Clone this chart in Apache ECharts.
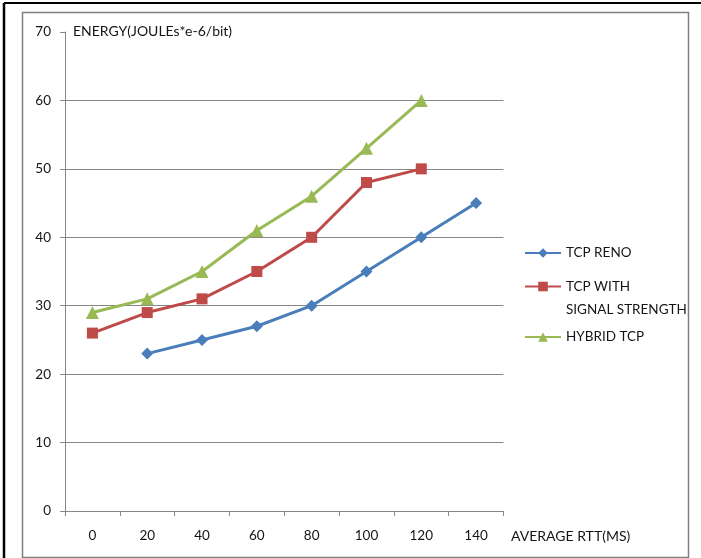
<!DOCTYPE html>
<html>
<head>
<meta charset="utf-8">
<script src="https://cdn.jsdelivr.net/npm/echarts@6/dist/echarts.min.js"></script>
<style>
  html, body { margin: 0; padding: 0; background: #fff; }
  #chart { width: 701px; height: 558px; }
</style>
</head>
<body>
<div id="chart"></div>
<script>
// Average RTT (ms) categories and energy per bit for each TCP variant
const rttLabels = ['0', '20', '40', '60', '80', '100', '120', '140'];
const tcpReno = [null, 23, 25, 27, 30, 35, 40, 45];
const tcpSignal = [26, 29, 31, 35, 40, 48, 50, null];
const hybridTcp = [29, 31, 35, 41, 46, 53, 60, null];
const yTicks = { min: 0, max: 70, step: 10 };

const FONT = 'Lato, "Open Sans", sans-serif';
const FS = 13.5;
const TXT = '#151515';
const AXIS_GREY = '#878787';
const COLORS = { reno: '#4A7EBB', signal: '#BE4B48', hybrid: '#98B954' };

const chart = echarts.init(document.getElementById('chart'), null, { renderer: 'canvas' });

function legendBlock(name, top, extra) {
  return Object.assign({
    data: [name],
    orient: 'vertical',
    left: 519,
    top: top,
    itemWidth: 36,
    itemHeight: 12,
    itemGap: 2,
    selectedMode: false,
    textStyle: { fontFamily: FONT, fontSize: FS, color: TXT }
  }, extra || {});
}

chart.setOption({
  animation: false,
  backgroundColor: '#fff',
  textStyle: { fontFamily: FONT },
  grid: { left: 65, right: 197.5, top: 32, bottom: 47 },
  xAxis: {
    type: 'category',
    data: rttLabels,
    boundaryGap: true,
    axisLine: { lineStyle: { color: AXIS_GREY, width: 1 } },
    axisTick: { show: true, length: 5, lineStyle: { color: AXIS_GREY } },
    axisLabel: { margin: 18, fontSize: FS, color: TXT, fontFamily: FONT },
    splitLine: { show: false }
  },
  yAxis: {
    type: 'value',
    min: yTicks.min,
    max: yTicks.max,
    interval: yTicks.step,
    axisLine: { show: true, lineStyle: { color: AXIS_GREY, width: 1 } },
    axisTick: { show: true, length: 5, lineStyle: { color: AXIS_GREY } },
    axisLabel: { margin: 14, fontSize: FS, color: TXT, fontFamily: FONT },
    splitLine: { show: true, showMaxLine: false, lineStyle: { color: AXIS_GREY, width: 1 } }
  },
  legend: [
    legendBlock('TCP RENO', 241),
    // leading blank line keeps the icon level with the first text line
    legendBlock('TCP WITH\nSIGNAL STRENGTH', 247, {
      formatter: function (n) { return '\u00a0\n' + n; },
      textStyle: { fontFamily: FONT, fontSize: FS, color: TXT, lineHeight: 23 }
    }),
    legendBlock('HYBRID TCP', 325)
  ],
  graphic: [
    // outer frame: heavy black top and left edges
    { type: 'line', shape: { x1: 4, y1: 3, x2: 701, y2: 3 }, style: { stroke: '#000', lineWidth: 2 }, z: 100 },
    { type: 'line', shape: { x1: 4, y1: 3, x2: 4, y2: 558 }, style: { stroke: '#000', lineWidth: 2.5 }, z: 100 },
    // inner chart-area border
    { type: 'rect', shape: { x: 22.5, y: 12.5, width: 666, height: 545 },
      style: { fill: null, stroke: '#7f7f7f', lineWidth: 1.5 }, z: 100 },
    { type: 'text', left: 73, top: 24,
      style: { text: 'ENERGY(JOULEs*e-6/bit)', font: '14px ' + FONT, fill: TXT } },
    { type: 'text', left: 511, top: 529,
      style: { text: 'AVERAGE RTT(MS)', font: '14px ' + FONT, fill: TXT } }
  ],
  series: [
    {
      name: 'TCP RENO', type: 'line', data: tcpReno,
      symbol: 'diamond', symbolSize: 12, connectNulls: false,
      itemStyle: { color: COLORS.reno },
      lineStyle: { color: COLORS.reno, width: 3 }
    },
    {
      name: 'TCP WITH\nSIGNAL STRENGTH', type: 'line', data: tcpSignal,
      symbol: 'rect', symbolSize: 11,
      itemStyle: { color: COLORS.signal },
      lineStyle: { color: COLORS.signal, width: 3 }
    },
    {
      name: 'HYBRID TCP', type: 'line', data: hybridTcp,
      symbol: 'triangle', symbolSize: 13,
      itemStyle: { color: COLORS.hybrid },
      lineStyle: { color: COLORS.hybrid, width: 3 }
    }
  ]
});
</script>
</body>
</html>
